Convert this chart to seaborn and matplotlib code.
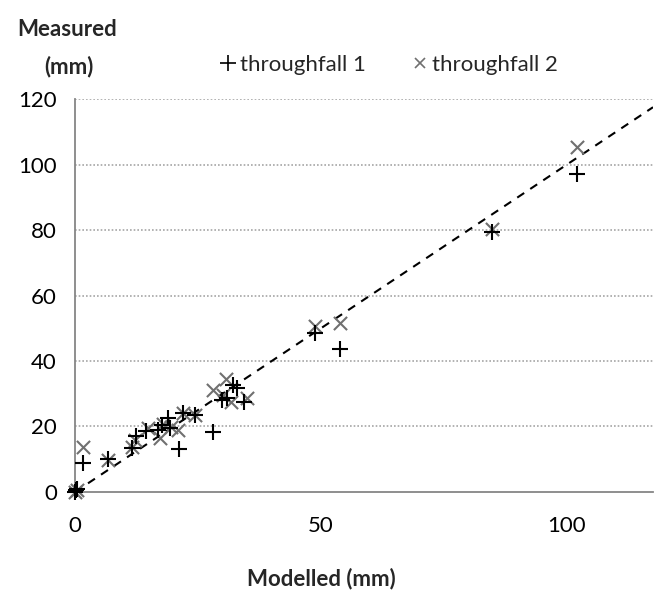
import matplotlib
matplotlib.use("Agg")
import matplotlib.pyplot as plt
from matplotlib.lines import Line2D
import numpy as np
import pandas as pd
import seaborn as sns

# Modelled vs measured throughfall (mm)
tf1_modelled = [0.0, 0.3, 0.5, 1.6, 6.8, 11.5, 12.4, 14.5, 16.9, 17.6, 19.0, 19.3,
                21.2, 22.0, 24.4, 28.1, 29.8, 30.8, 32.2, 32.9, 34.4, 48.8, 53.9,
                84.7, 102.0]
tf1_measured = [0.0, 0.5, 1.0, 9.0, 10.2, 13.3, 17.2, 18.5, 18.9, 20.5, 22.5, 19.4,
                13.0, 24.0, 23.5, 18.4, 28.1, 28.6, 32.7, 31.7, 27.6, 48.6, 43.7,
                79.5, 97.0]

tf2_modelled = [0.0, 0.4, 1.6, 6.8, 11.5, 12.2, 14.9, 17.3, 17.8, 19.5, 21.0, 22.0,
                24.4, 28.1, 30.7, 30.1, 31.8, 34.9, 48.8, 53.8, 84.7, 102.0]
tf2_measured = [0.0, 0.7, 13.8, 9.8, 13.6, 15.9, 19.4, 16.4, 20.8, 19.8, 18.9, 24.0,
                23.5, 31.1, 34.4, 29.6, 27.6, 28.6, 50.8, 51.5, 80.3, 105.3]

series_labels = ["throughfall 1", "throughfall 2"]
x_ticks = [0, 50, 100]
y_ticks = [0, 20, 40, 60, 80, 100, 120]

df1 = pd.DataFrame({"Modelled": tf1_modelled, "Measured": tf1_measured})
df2 = pd.DataFrame({"Modelled": tf2_modelled, "Measured": tf2_measured})

sns.set_theme(style="white")
plt.rcParams["font.family"] = ["Lato", "DejaVu Sans"]

fig = plt.figure(figsize=(6.55, 5.98), dpi=100)
ax = fig.add_axes([0.1145, 0.1773, 0.8825, 0.6571])

grey_axis = "#868686"
ax.set_xlim(0, 117.5)
ax.set_ylim(0, 120)

# horizontal dotted gridlines
for yv in y_ticks[1:]:
    ax.axhline(yv, color="#a6a6a6", lw=1.2, ls=(0, (1, 1.2)), zorder=0)

# 1:1 reference line
lim = np.array([0, 117.5])
ax.plot(lim, lim, color="black", lw=1.5, ls=(0, (4, 3.5)), zorder=1)

# markers at the origin sit over the axes, so they are not clipped
sns.scatterplot(data=df2, x="Modelled", y="Measured", ax=ax, marker="x",
                s=90, color="#707070", linewidth=1.5, zorder=5, legend=False,
                clip_on=False)
sns.scatterplot(data=df1, x="Modelled", y="Measured", ax=ax, marker="+",
                s=130, color="black", linewidth=1.5, zorder=6, legend=False,
                clip_on=False)

for side in ["top", "right"]:
    ax.spines[side].set_visible(False)
for side in ["left", "bottom"]:
    ax.spines[side].set_color(grey_axis)
    ax.spines[side].set_linewidth(1.3)

ax.set_xticks(x_ticks)
ax.set_yticks(y_ticks)
ax.tick_params(axis="both", which="major", labelsize=16, colors=grey_axis,
               labelcolor="black", length=5, width=1.3, direction="out")
ax.tick_params(axis="x", pad=12)
ax.tick_params(axis="y", pad=8)
ax.set_xlabel("")
ax.set_ylabel("")

fig.text(0.49, 0.033, "Modelled (mm)", ha="center", va="center",
         fontsize=16, fontweight="bold")
fig.text(0.103, 0.950, "Measured", ha="center", va="center",
         fontsize=16, fontweight="bold")
fig.text(0.105, 0.888, "(mm)", ha="center", va="center",
         fontsize=16, fontweight="bold")

handles = [
    Line2D([], [], ls="none", marker="+", color="black", markersize=11, mew=1.2),
    Line2D([], [], ls="none", marker="x", color="#707070", markersize=7, mew=1.2),
]
fig.legend(handles, series_labels, loc="center", bbox_to_anchor=(0.593, 0.891),
           ncol=2, frameon=False, fontsize=16, handlelength=0.8,
           handletextpad=0.15, columnspacing=2.0)

fig.savefig("out.png", dpi=100)
